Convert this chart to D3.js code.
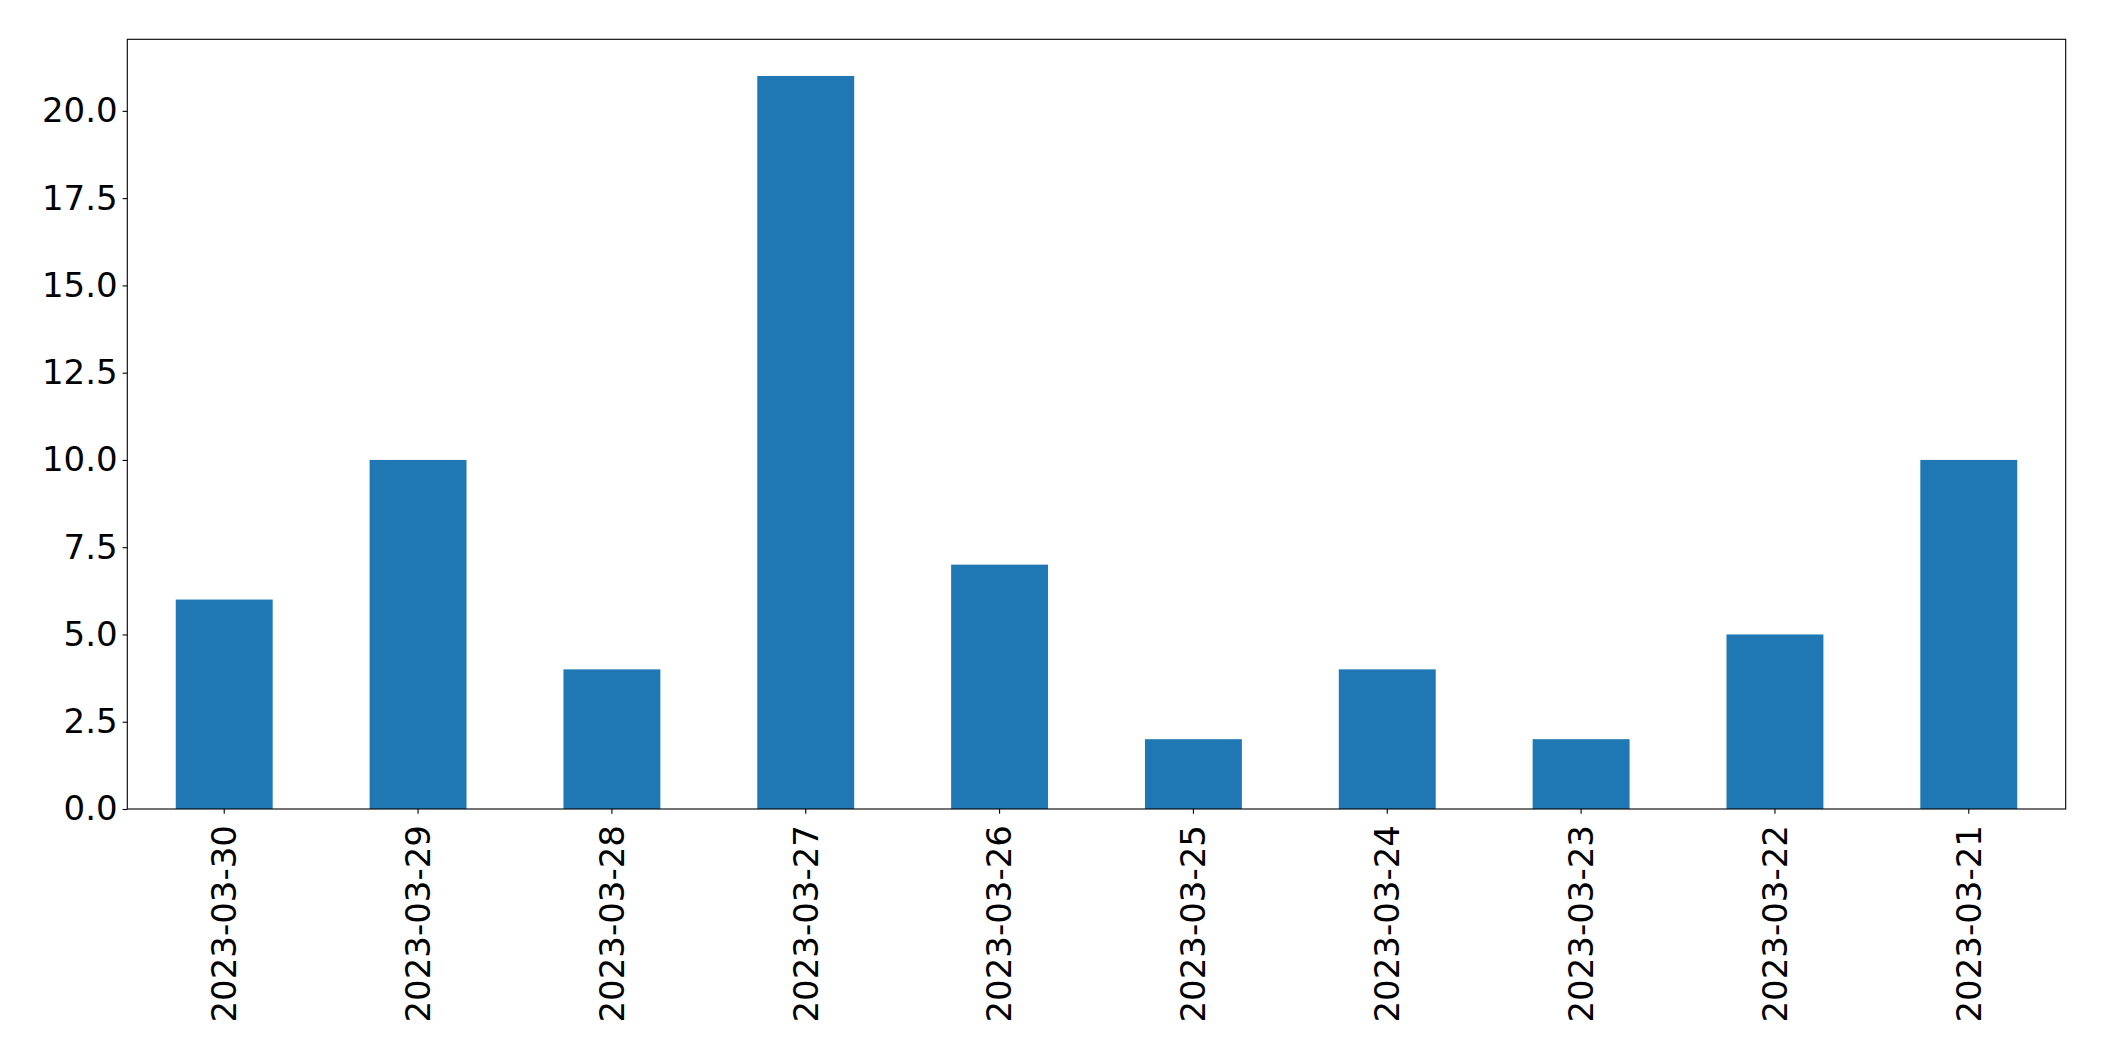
<!DOCTYPE html>
<html>
<head>
<meta charset="utf-8">
<script src="https://cdn.jsdelivr.net/npm/d3@7"></script>
<style>
  body { margin: 0; background: #fff; }
  svg { display: block; font-family: "DejaVu Sans", sans-serif; }
</style>
</head>
<body>
<svg width="2104" height="1061"></svg>
<script>
// Chart data
const dates = ["2023-03-30", "2023-03-29", "2023-03-28", "2023-03-27", "2023-03-26",
               "2023-03-25", "2023-03-24", "2023-03-23", "2023-03-22", "2023-03-21"];
const counts = [6, 10, 4, 21, 7, 2, 4, 2, 5, 10];
const yTicks = [0, 2.5, 5, 7.5, 10, 12.5, 15, 17.5, 20];

const svg = d3.select("svg");
const margin = { left: 127.3, top: 39.3, right: 2104 - 2065.7, bottom: 1061 - 809 };
const width = 2104 - margin.left - margin.right;
const height = 1061 - margin.top - margin.bottom;

const g = svg.append("g").attr("transform", `translate(${margin.left},${margin.top})`);

// band scale: half-width bars, a quarter step of space at each end
const x = d3.scaleBand()
    .domain(dates)
    .range([0, width])
    .paddingInner(0.5)
    .paddingOuter(0.25);

const y = d3.scaleLinear()
    .domain([0, d3.max(counts) * 1.05])
    .range([height, 0]);

// Bars
g.append("g")
    .selectAll("rect")
    .data(dates)
    .enter()
    .append("rect")
    .attr("x", d => x(d))
    .attr("y", (d, i) => y(counts[i]))
    .attr("width", x.bandwidth())
    .attr("height", (d, i) => y(0) - y(counts[i]))
    .attr("fill", "#1f77b4");

// Y axis
const yAxis = g.append("g")
    .call(d3.axisLeft(y).tickValues(yTicks).tickFormat(d3.format(".1f")).tickSize(4.7).tickPadding(5));
yAxis.select(".domain").remove();
yAxis.selectAll("line").attr("stroke", "#000").attr("stroke-width", 1.1);
yAxis.selectAll("text")
    .attr("font-size", "34px")
    .attr("fill", "#000")
    .attr("font-family", "DejaVu Sans, sans-serif");

// X axis
const xAxis = g.append("g")
    .attr("transform", `translate(0,${height})`)
    .call(d3.axisBottom(x).tickSize(4.7).tickPadding(0));
xAxis.select(".domain").remove();
xAxis.selectAll("line").attr("stroke", "#000").attr("stroke-width", 1.1);
xAxis.selectAll("text")
    .attr("font-size", "34px")
    .attr("fill", "#000")
    .attr("font-family", "DejaVu Sans, sans-serif")
    .attr("text-anchor", "end")
    .attr("dy", "0.35em")
    .attr("transform", "translate(0,16) rotate(-90)")
    .attr("x", 0)
    .attr("y", 0);

// Frame around axes
g.append("rect")
    .attr("x", 0)
    .attr("y", 0)
    .attr("width", width)
    .attr("height", height)
    .attr("fill", "none")
    .attr("stroke", "#000")
    .attr("stroke-width", 1.1);
</script>
</body>
</html>
